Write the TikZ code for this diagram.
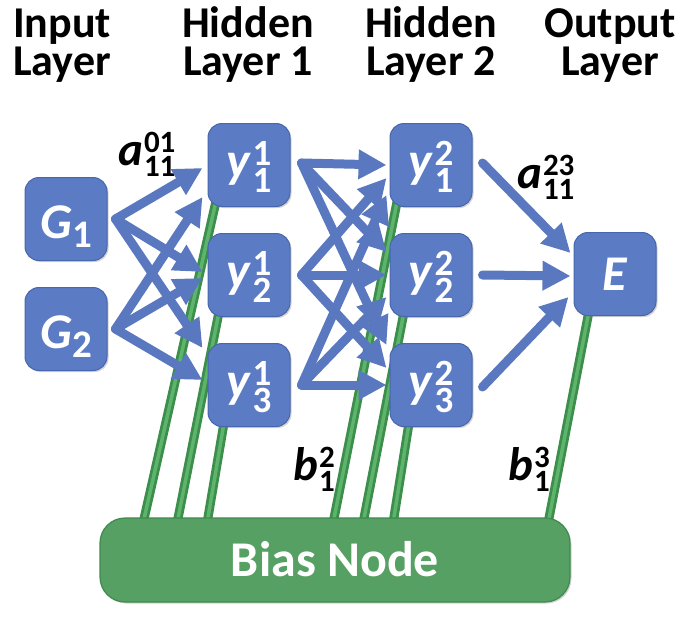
\documentclass[tikz,border=0pt]{standalone}
\usepackage{fontspec}
\setmainfont{Carlito}
\usetikzlibrary{arrows.meta,shadows,calc}
\definecolor{nodeblue}{HTML}{5B7BC4}
\definecolor{nodeedge}{HTML}{4766AD}
\definecolor{arrowblue}{HTML}{5A78C0}
\definecolor{biasgreen}{HTML}{56A064}
\definecolor{biasedge}{HTML}{3F8A4F}
\definecolor{linegreen}{HTML}{3B8F4B}
\definecolor{linelight}{HTML}{5FB46D}
\pgfdeclarelayer{bg}
\pgfsetlayers{bg,main}
\newcommand{\scrA}{\fontsize{37}{37}\selectfont}
\newcommand{\scrB}{\fontsize{31}{31}\selectfont}
\newcommand{\nlab}[3]{\textit{#1}\kern1pt\makebox[0pt][l]{\raisebox{12pt}{\scrA #2}}\raisebox{-15pt}{\scrA #3}}
\newcommand{\flab}[3]{\textit{#1}\kern1pt\makebox[0pt][l]{\raisebox{13pt}{\scrB #2}}\raisebox{-11pt}{\scrB #3}}
\newcommand{\glab}[2]{\textit{#1}\raisebox{-9pt}{\fontsize{39}{39}\selectfont #2}}
\tikzset{
  box/.style={rounded corners=14pt, fill=nodeblue, draw=nodeedge, line width=1pt,
    minimum width=82pt, minimum height=83pt, inner sep=0pt, text=white,
    font=\fontsize{50}{50}\selectfont\bfseries,
    drop shadow={opacity=0.35, shadow xshift=1.5pt, shadow yshift=-1.5pt}},
  ytext/.style={text height=28pt, text depth=4pt},
  gtext/.style={text height=40pt, text depth=2pt},
  etext/.style={text height=32pt, text depth=0pt},
  conn/.style={draw=arrowblue, line width=9pt, line cap=round, line join=round,
    -{Triangle[width=28pt,length=28pt]}},
  bline/.style={draw=linegreen, double=linelight, line width=2.8pt, double distance=3.5pt},
  hdr/.style={font=\fontsize{44}{37}\selectfont\bfseries, align=center, inner sep=0pt},
  wlabel/.style={font=\fontsize{47}{47}\selectfont\bfseries, inner sep=0pt, anchor=base west},
  biasbox/.style={rounded corners=25pt, fill=biasgreen, draw=biasedge, line width=1.2pt,
    minimum width=470pt, minimum height=84pt, inner sep=0pt, text=white,
    font=\fontsize{50}{50}\selectfont\bfseries, text height=32pt, text depth=0pt,
    drop shadow={opacity=0.35, shadow xshift=1.5pt, shadow yshift=-1.5pt}}
}
\begin{document}
\begin{tikzpicture}[x=1pt,y=-1pt]
\useasboundingbox (0,0) rectangle (691,618);
% headers
\node[hdr, anchor=base] (hin) at (62,75) {Input\\Layer};
\node[hdr, anchor=base] (hh1) at (248,75) {Hidden\\Layer 1};
\node[hdr, anchor=base] (hh2) at (431,75) {Hidden\\Layer 2};
\node[hdr, anchor=base] (hout) at (610,75) {Output\\Layer};
% nodes
\node[box, gtext] (G1) at (66,219) {\glab{G}{1}};
\node[box, gtext] (G2) at (66,329) {\glab{G}{2}};
\node[box, ytext] (y11) at (249,165) {\nlab{y}{1}{1}};
\node[box, ytext] (y21) at (249,275) {\nlab{y}{1}{2}};
\node[box, ytext] (y31) at (249,385) {\nlab{y}{1}{3}};
\node[box, ytext] (y12) at (431,165) {\nlab{y}{2}{1}};
\node[box, ytext] (y22) at (431,275) {\nlab{y}{2}{2}};
\node[box, ytext] (y32) at (431,385) {\nlab{y}{2}{3}};
\node[box, etext] (E) at (615,274) {\textit{E}};
\node[biasbox] (Bias) at (335,560) {Bias Node};
% weight labels
\node[wlabel] (a01) at (118,165) {\flab{a}{01}{11}};
\node[wlabel] (a23) at (517,188) {\flab{a}{23}{11}};
\node[wlabel] (b2) at (293,480) {\flab{b}{2}{1}};
\node[wlabel] (b3) at (508,480) {\flab{b}{3}{1}};
% bias lines
\begin{pgfonlayer}{bg}
\fill[white] (0,0) rectangle (691,618);
\draw[bline] ([xshift=-192pt,yshift=-6pt]Bias.north) -- ([xshift=-32pt,yshift=10pt]y11.south);
\draw[bline] ([xshift=-158pt,yshift=-6pt]Bias.north) -- ([xshift=-29pt,yshift=10pt]y21.south);
\draw[bline] ([xshift=-128pt,yshift=-6pt]Bias.north) -- ([xshift=-24pt,yshift=10pt]y31.south);
\draw[bline] ([xshift=-2pt,yshift=-6pt]Bias.north) -- ([xshift=-33pt,yshift=10pt]y12.south);
\draw[bline] ([xshift=28pt,yshift=-6pt]Bias.north) -- ([xshift=-26pt,yshift=10pt]y22.south);
\draw[bline] ([xshift=58pt,yshift=-6pt]Bias.north) -- ([xshift=-21pt,yshift=10pt]y32.south);
\draw[bline] ([xshift=213pt,yshift=-6pt]Bias.north) -- ([xshift=-25pt,yshift=10pt]E.south);
\end{pgfonlayer}
% input -> hidden 1
\draw[conn] ([xshift=8pt]G1.east) -- ([xshift=-5pt,yshift=-3pt]y11.west);
\draw[conn] ([xshift=8pt]G1.east) -- ([xshift=-5pt,yshift=3pt]y21.west);
\draw[conn] ([xshift=8pt]G1.east) -- ([xshift=-5pt,yshift=37pt]y31.west);
\draw[conn] ([xshift=8pt]G2.east) -- ([xshift=-5pt,yshift=-32pt]y11.west);
\draw[conn] ([xshift=8pt]G2.east) -- ([xshift=-5pt,yshift=-3pt]y21.west);
\draw[conn] ([xshift=8pt]G2.east) -- ([xshift=-5pt,yshift=5pt]y31.west);
% hidden 1 -> hidden 2
\draw[conn] ([xshift=11pt,yshift=2pt]y11.east) -- ([xshift=-3pt]y12.west);
\draw[conn] ([xshift=11pt,yshift=2pt]y11.east) -- ([xshift=-3pt,yshift=23pt]y22.west);
\draw[conn] ([xshift=11pt,yshift=2pt]y11.east) -- ([xshift=-3pt,yshift=40pt]y32.west);
\draw[conn] ([xshift=11pt]y21.east) -- ([xshift=-3pt,yshift=-13pt]y12.west);
\draw[conn] ([xshift=11pt]y21.east) -- ([xshift=-3pt]y22.west);
\draw[conn] ([xshift=11pt]y21.east) -- ([xshift=-3pt,yshift=17pt]y32.west);
\draw[conn] ([xshift=11pt]y31.east) -- ([xshift=-3pt,yshift=-30pt]y12.west);
\draw[conn] ([xshift=11pt]y31.east) -- ([xshift=-3pt,yshift=-22pt]y22.west);
\draw[conn] ([xshift=11pt]y31.east) -- ([xshift=-3pt]y32.west);
% hidden 2 -> output
\draw[conn] ([xshift=10pt,yshift=2pt]y12.east) -- ([xshift=-3pt,yshift=21pt]E.west);
\draw[conn] ([xshift=10pt]y22.east) -- ([xshift=-3pt,yshift=-2pt]E.west);
\draw[conn] ([xshift=10pt,yshift=-2pt]y32.east) -- ([xshift=-5pt,yshift=-23pt]E.west);
\end{tikzpicture}
\end{document}
